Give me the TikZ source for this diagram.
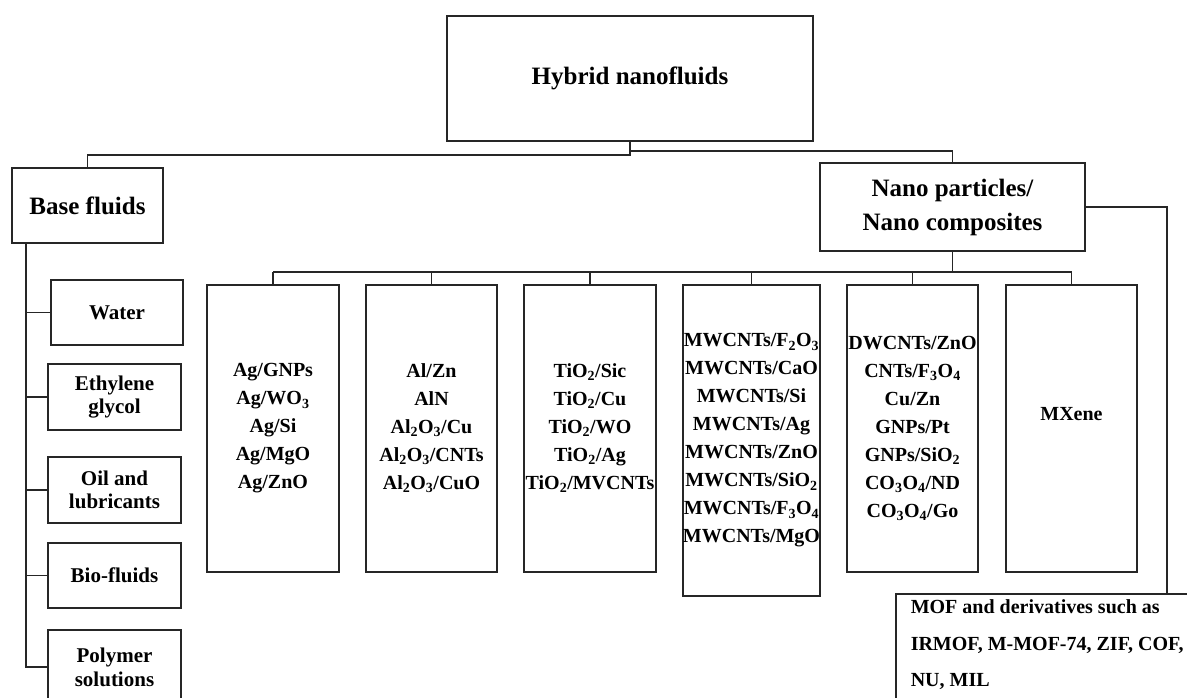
\documentclass[tikz,border=0pt]{standalone}
\usepackage{fontspec}
\setmainfont{Liberation Serif}
\usetikzlibrary{calc}
\begin{document}
\begin{tikzpicture}[x=1pt,y=-1pt,
  box/.style={draw=black!85, line width=1.5pt, inner sep=0pt, align=center, font=\bfseries},
  big/.style={box, font=\fontsize{25}{34}\selectfont\bfseries},
  side/.style={box, font=\fontsize{21}{23}\selectfont\bfseries, minimum width=133, minimum height=66},
  leaf/.style={box, font=\fontsize{20}{28}\selectfont\bfseries, minimum width=131, minimum height=287},
  link/.style={draw=black!85, line width=1.6pt}]
\clip (0,0) rectangle (1187,698);
\fill[white] (0,0) rectangle (1187,698);

% top level
\node[big, minimum width=366, minimum height=125] (hyb) at (630,78.5) {Hybrid nanofluids};
\node[big, minimum width=151, minimum height=75] (base) at (87.5,205.5) {Base fluids};
\node[big, minimum width=265, minimum height=88] (nano) at (952.5,207) {Nano particles/\\Nano composites};

% base fluids children
\node[side, minimum width=132, minimum height=65] (water) at (117,312.5) {Water};
\node[side] (eth) at (114.5,397) {Ethylene\\glycol};
\node[side] (oil) at (114.5,490) {Oil and\\lubricants};
\node[side, minimum height=65] (bio) at (114.5,575.5) {Bio-fluids};
\node[side, minimum height=74, font=\fontsize{21}{24}\selectfont\bfseries] (poly) at (114.5,667) {Polymer\\solutions};

% nano children
\node[leaf, minimum width=132] (b1) at (273,428.5) {Ag/GNPs\\Ag/WO\textsubscript{3}\\Ag/Si\\Ag/MgO\\Ag/ZnO};
\node[leaf] (b2) at (431.5,428.5) {Al/Zn\\AlN\\Al\textsubscript{2}O\textsubscript{3}/Cu\\Al\textsubscript{2}O\textsubscript{3}/CNTs\\Al\textsubscript{2}O\textsubscript{3}/CuO};
\node[leaf, minimum width=132] (b3) at (590,428.5) {TiO\textsubscript{2}/Sic\\TiO\textsubscript{2}/Cu\\TiO\textsubscript{2}/WO\\TiO\textsubscript{2}/Ag\\TiO\textsubscript{2}/MVCNTs};
\node[leaf, minimum width=137, minimum height=311] (b4) at (751.5,440.5) {MWCNTs/F\textsubscript{2}O\textsubscript{3}\\MWCNTs/CaO\\MWCNTs/Si\\MWCNTs/Ag\\MWCNTs/ZnO\\MWCNTs/SiO\textsubscript{2}\\MWCNTs/F\textsubscript{3}O\textsubscript{4}\\MWCNTs/MgO};
\node[leaf] (b5) at (912.5,428.5) {DWCNTs/ZnO\\CNTs/F\textsubscript{3}O\textsubscript{4}\\Cu/Zn\\GNPs/Pt\\GNPs/SiO\textsubscript{2}\\CO\textsubscript{3}O\textsubscript{4}/ND\\CO\textsubscript{3}O\textsubscript{4}/Go};
\node[leaf] (b6) at (1071.5,428.5) {MXene\\[2pt]~};

% MOF box
\node[box, anchor=north west, align=left, inner xsep=15pt, inner ysep=6pt,
      font=\fontsize{20}{36.5}\selectfont\bfseries] (mof) at (895,593)
  {MOF and derivatives such as\\IRMOF, M-MOF-74, ZIF, COF,\\NU, MIL\rule[-20pt]{0pt}{0pt}};

% connectors
\draw[link] (hyb.south) -- ++(0,13) -| (base.north);
\draw[link] (hyb.south) ++(0,9) -| (nano.north);

\coordinate (spine) at ($(base.south west)+(15,0)$);
\draw[link] (spine) |- (poly.west);
\foreach \n in {water,eth,oil,bio} \draw[link] (\n.west) -- (\n.west -| spine);

\coordinate (row) at ($(nano.south)+(0,20)$);
\draw[link] (nano.south) -- (row);
\draw[link] (b1.north |- row) -- (b6.north |- row);
\foreach \n in {b1,b2,b3,b4,b5,b6} \draw[link] (\n.north) -- (\n.north |- row);

\draw[link] (nano.east) -| ($(mof.north west)+(272,0)$);
\end{tikzpicture}
\end{document}
